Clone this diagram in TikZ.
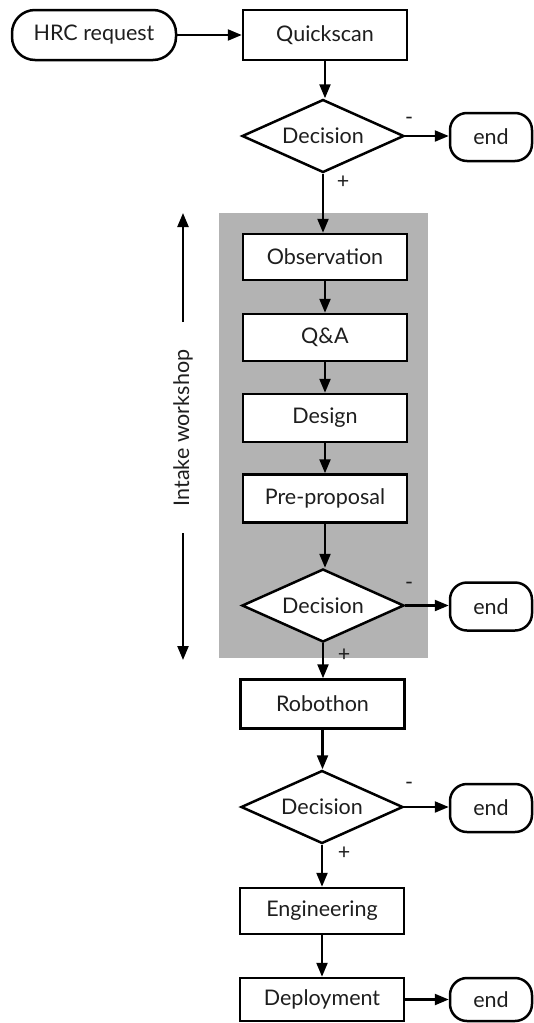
\documentclass[tikz,border=0pt]{standalone}
\usepackage{fontspec}
\setmainfont{Lato}
\usetikzlibrary{shapes.geometric,arrows.meta}
\definecolor{bg}{RGB}{179,179,179}
\definecolor{txt}{RGB}{30,30,30}
\begin{document}
\begin{tikzpicture}[x=1pt,y=-1pt,
  font=\fontsize{21.5}{24}\selectfont, text=txt,
  box/.style={draw, line width=2.5pt, fill=white, minimum width=164pt, minimum height=48pt, inner sep=0pt},
  dec/.style={draw, diamond, line width=2.5pt, fill=white, minimum width=162pt, minimum height=73pt, inner sep=0pt, aspect=2.2},
  term/.style={draw, line width=2.5pt, fill=white, rounded corners=17pt, minimum width=82pt, minimum height=48pt, inner sep=0pt},
  arr/.style={line width=2.3pt, -{Triangle[length=14pt,width=11pt]}},
  sign/.style={inner sep=0pt, font=\fontsize{21.5}{24}\selectfont}
]
\useasboundingbox (0,0) rectangle (534,1023);
\fill[bg] (219,213) rectangle (428,658);

\node[term, rounded corners=23pt, minimum width=164pt, minimum height=50pt] (hrc) at (94,35) {HRC request};
\node[box, minimum height=50pt] (qs) at (325,35) {Quickscan};
\node[dec] (d1) at (323,136) {Decision};
\node[term] (e1) at (491,137) {end};
\node[box, minimum height=46pt] (obs) at (325,257) {Observation};
\node[box, minimum height=47pt] (qa) at (325,337.5) {Q\&A};
\node[box] (des) at (325,418) {Design};
\node[box] (pre) at (325,498.5) {Pre-proposal};
\node[dec] (d2) at (323,605.5) {Decision};
\node[term] (e2) at (491,606.5) {end};
\node[box, minimum height=49pt] (rob) at (322.5,704) {Robothon};
\node[dec] (d3) at (322,807) {Decision};
\node[term] (e3) at (491,808) {end};
\node[box, minimum height=46pt] (eng) at (322,911) {Engineering};
\node[box, minimum height=43pt] (dep) at (322,999.5) {Deployment};
\node[term, minimum height=43pt] (e4) at (491,999.5) {end};

\draw[arr] (hrc.east) -- (hrc.east -| qs.west);
\draw[arr] (qs.south) -- (qs.south |- d1.north);
\draw[arr] (d1.east) -- (d1.east -| e1.west);
\draw[arr] (d1.south) -- (d1.south |- obs.north);
\draw[arr] (obs.south) -- (obs.south |- qa.north);
\draw[arr] (qa.south) -- (qa.south |- des.north);
\draw[arr] (des.south) -- (des.south |- pre.north);
\draw[arr] (pre.south) -- (pre.south |- d2.north);
\draw[arr] (d2.east) -- (d2.east -| e2.west);
\draw[arr] (d2.south) -- (d2.south |- rob.north);
\draw[arr] (rob.south) -- (rob.south |- d3.north);
\draw[arr] (d3.east) -- (d3.east -| e3.west);
\draw[arr] (d3.south) -- (d3.south |- eng.north);
\draw[arr] (eng.south) -- (eng.south |- dep.north);
\draw[arr] (dep.east) -- (dep.east -| e4.west);

\node[sign] (m1) at (409,121) {-};
\node[sign] (p1) at (343,182) {+};
\node[sign] (m2) at (409,586) {-};
\node[sign] (p2) at (344,655) {+};
\node[sign] (m3) at (409,786) {-};
\node[sign] (p3) at (344,853) {+};

\node[rotate=90, inner sep=0pt] (iw) at (183,428) {Intake workshop};
\coordinate (iwtop) at (183,213);
\coordinate (iwbot) at (183,660);
\coordinate (iwa) at (183,322);
\coordinate (iwb) at (183,533);
\draw[arr] (iwa) -- (iwtop);
\draw[arr] (iwb) -- (iwbot);
\end{tikzpicture}
\end{document}
